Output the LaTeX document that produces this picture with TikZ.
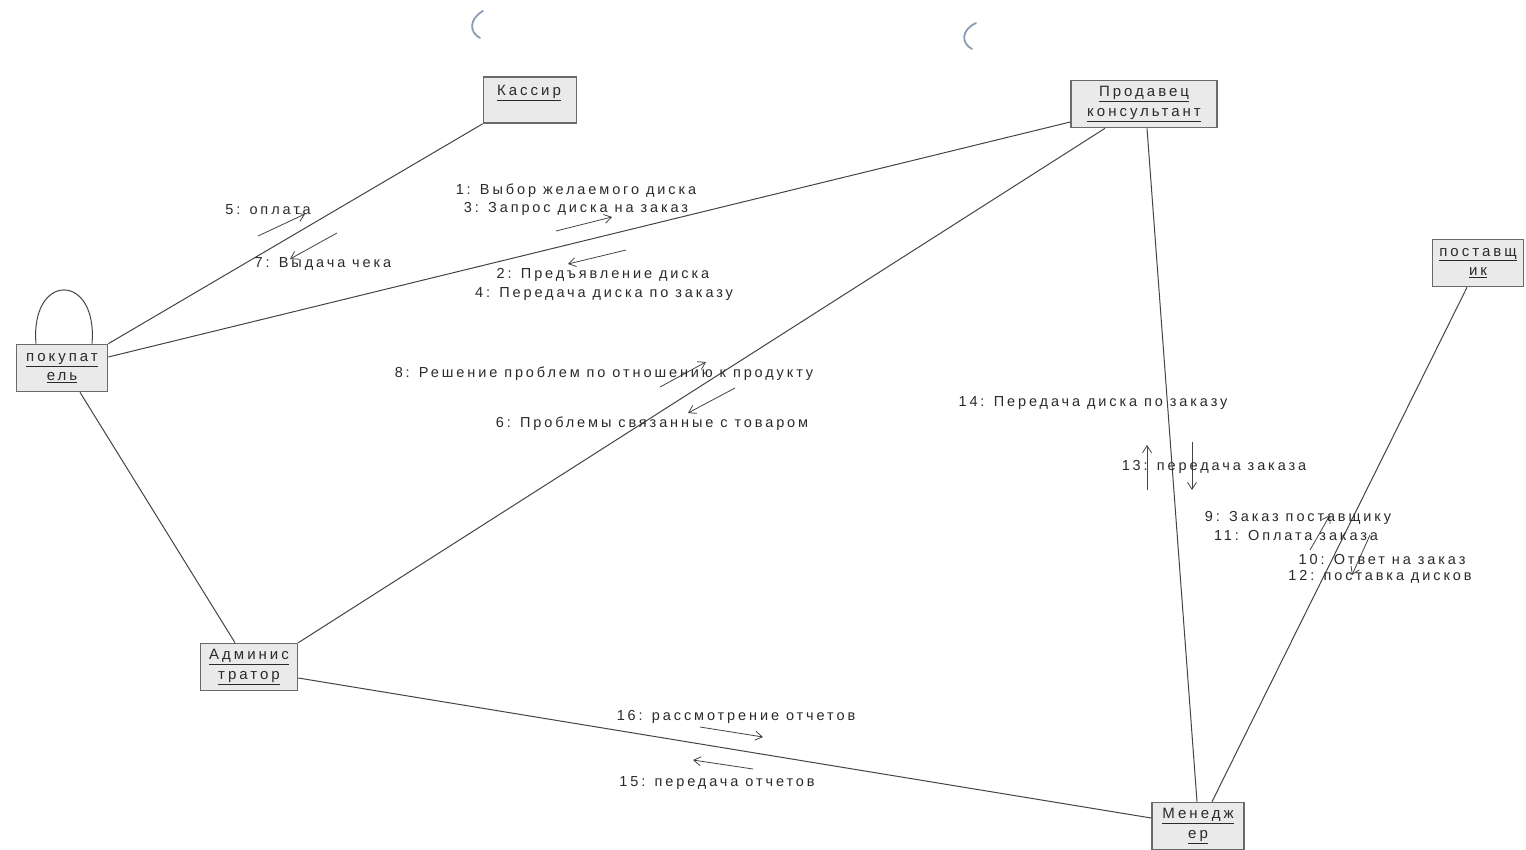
\documentclass[tikz,border=0pt]{standalone}
\usepackage{fontspec}
\setmainfont{Liberation Sans}[LetterSpace=20]
\usetikzlibrary{arrows.meta,calc}
\definecolor{linecol}{HTML}{444444}
\definecolor{boxborder}{HTML}{6A6A6A}
\definecolor{boxfill}{HTML}{EAEAEA}
\definecolor{txtcol}{HTML}{2A2A2A}
\definecolor{artcol}{HTML}{8C9CB2}
\begin{document}
\begin{tikzpicture}[x=1pt,y=-1pt,
  objbox/.style={draw=boxborder, line width=1.6pt, fill=boxfill, inner sep=0pt,
     align=center, text=txtcol, font=\fontsize{15}{19.5}\selectfont},
  boxtext/.style={inner sep=0pt, text=txtcol, font=\fontsize{15}{19.5}\selectfont},
  link/.style={draw=linecol, line width=1pt},
  msg/.style={draw=linecol, line width=0.8pt, -{Straight Barb[length=7pt,width=9pt]}},
  lbl/.style={inner sep=0pt, text=txtcol, yshift=-2pt, font=\fontsize{14.5}{17}\selectfont},
  artifact/.style={draw=artcol, line width=1.8pt, line cap=round}]
\useasboundingbox[fill=white] (0,0) rectangle (1526,849);

% objects
\node[objbox, minimum width=91pt, minimum height=47pt] (pok) at (62,368)
  {\underline{покупат}\\\underline{ель}};
\node[objbox, minimum width=93pt, minimum height=46pt] (kas) at (530,100) {};
\node[boxtext] (kast) at (529,93) {\underline{Кассир}};
\node[objbox, minimum width=146pt, minimum height=47pt] (prod) at (1144,104)
  {\underline{Продавец}\\\underline{консультант}};
\node[objbox, minimum width=91pt, minimum height=47pt] (post) at (1478,263)
  {\underline{поставщ}\\\underline{ик}};
\node[objbox, minimum width=97pt, minimum height=47pt] (adm) at (249,667)
  {\underline{Админис}\\\underline{тратор}};
\node[objbox, minimum width=92pt, minimum height=47pt] (man) at (1198,826)
  {\underline{Менедж}\\\underline{ер}};

% self loop
\coordinate (loopA) at ([xshift=-26pt]pok.north);
\coordinate (loopB) at ([xshift=30pt]pok.north);
\draw[link] (loopA) .. controls (30,272) and (98,272) .. (loopB);

% links
\draw[link] (pok.north east) -- (kas.south west);
\draw[link] ([yshift=11pt]pok.east) -- ([yshift=-18pt]prod.west);
\draw[link] ([xshift=18pt]pok.south) -- ([xshift=-14pt]adm.north);
\draw[link] (adm.north east) -- ([xshift=-39pt]prod.south);
\draw[link] ([xshift=3pt]prod.south) -- ([xshift=-1pt]man.north);
\draw[link] ([xshift=-11pt]post.south) -- ([xshift=14pt]man.north);
\draw[link] ([yshift=-11pt]adm.east) -- ([yshift=8pt]man.west);

% message arrows
\coordinate (m5a) at (258,236);  \coordinate (m5b) at (305,214);
\coordinate (m7a) at (337,233);  \coordinate (m7b) at (290,259);
\coordinate (m1a) at (556,231);  \coordinate (m1b) at (612,217);
\coordinate (m2a) at (626,250);  \coordinate (m2b) at (568,264);
\coordinate (m8a) at (660,387);  \coordinate (m8b) at (706,362);
\coordinate (m6a) at (735,388);  \coordinate (m6b) at (688,413);
\coordinate (m14a) at (1147,490); \coordinate (m14b) at (1147,445);
\coordinate (m13a) at (1192,442); \coordinate (m13b) at (1192,490);
\coordinate (m9a) at (1310,550); \coordinate (m9b) at (1330,515);
\coordinate (m10a) at (1370,535); \coordinate (m10b) at (1352,575);
\coordinate (m16a) at (700,727); \coordinate (m16b) at (763,737);
\coordinate (m15a) at (753,769); \coordinate (m15b) at (693,760);
\foreach \m in {5,7,1,2,8,6,14,13,9,10,16,15}
  \draw[msg] (m\m a) -- (m\m b);

% labels
\node[lbl] (l5) at (268,208) {5: оплата};
\node[lbl] (l7) at (323,262) {7: Выдача чека};
\node[lbl] (l1) at (576,189) {1: Выбор желаемого диска};
\node[lbl] (l3) at (576,207) {3: Запрос диска на заказ};
\node[lbl] (l2) at (603,273) {2: Предъявление диска};
\node[lbl] (l4) at (604,292) {4: Передача диска по заказу};
\node[lbl] (l8) at (604,372) {8: Решение проблем по отношению к продукту};
\node[lbl] (l6) at (652,422) {6: Проблемы связанные с товаром};
\node[lbl] (l14) at (1093,401) {14: Передача диска по заказу};
\node[lbl] (l13) at (1214,465) {13: передача заказа};
\node[lbl] (l9) at (1298,516) {9: Заказ поставщику};
\node[lbl] (l11) at (1296,533) {11: Оплата заказа};
\node[lbl] (l10) at (1382,557) {10: Ответ на заказ};
\node[lbl] (l12) at (1380,575) {12: поставка дисков};
\node[lbl] (l16) at (736,715) {16: рассмотрение отчетов};
\node[lbl] (l15) at (717,781) {15: передача отчетов};

% scan marks
\draw[artifact] (483,11) .. controls (469,19) and (469,32) .. (480,38);
\draw[artifact] (976,23) .. controls (961,30) and (961,43) .. (972,49);
\end{tikzpicture}
\end{document}
